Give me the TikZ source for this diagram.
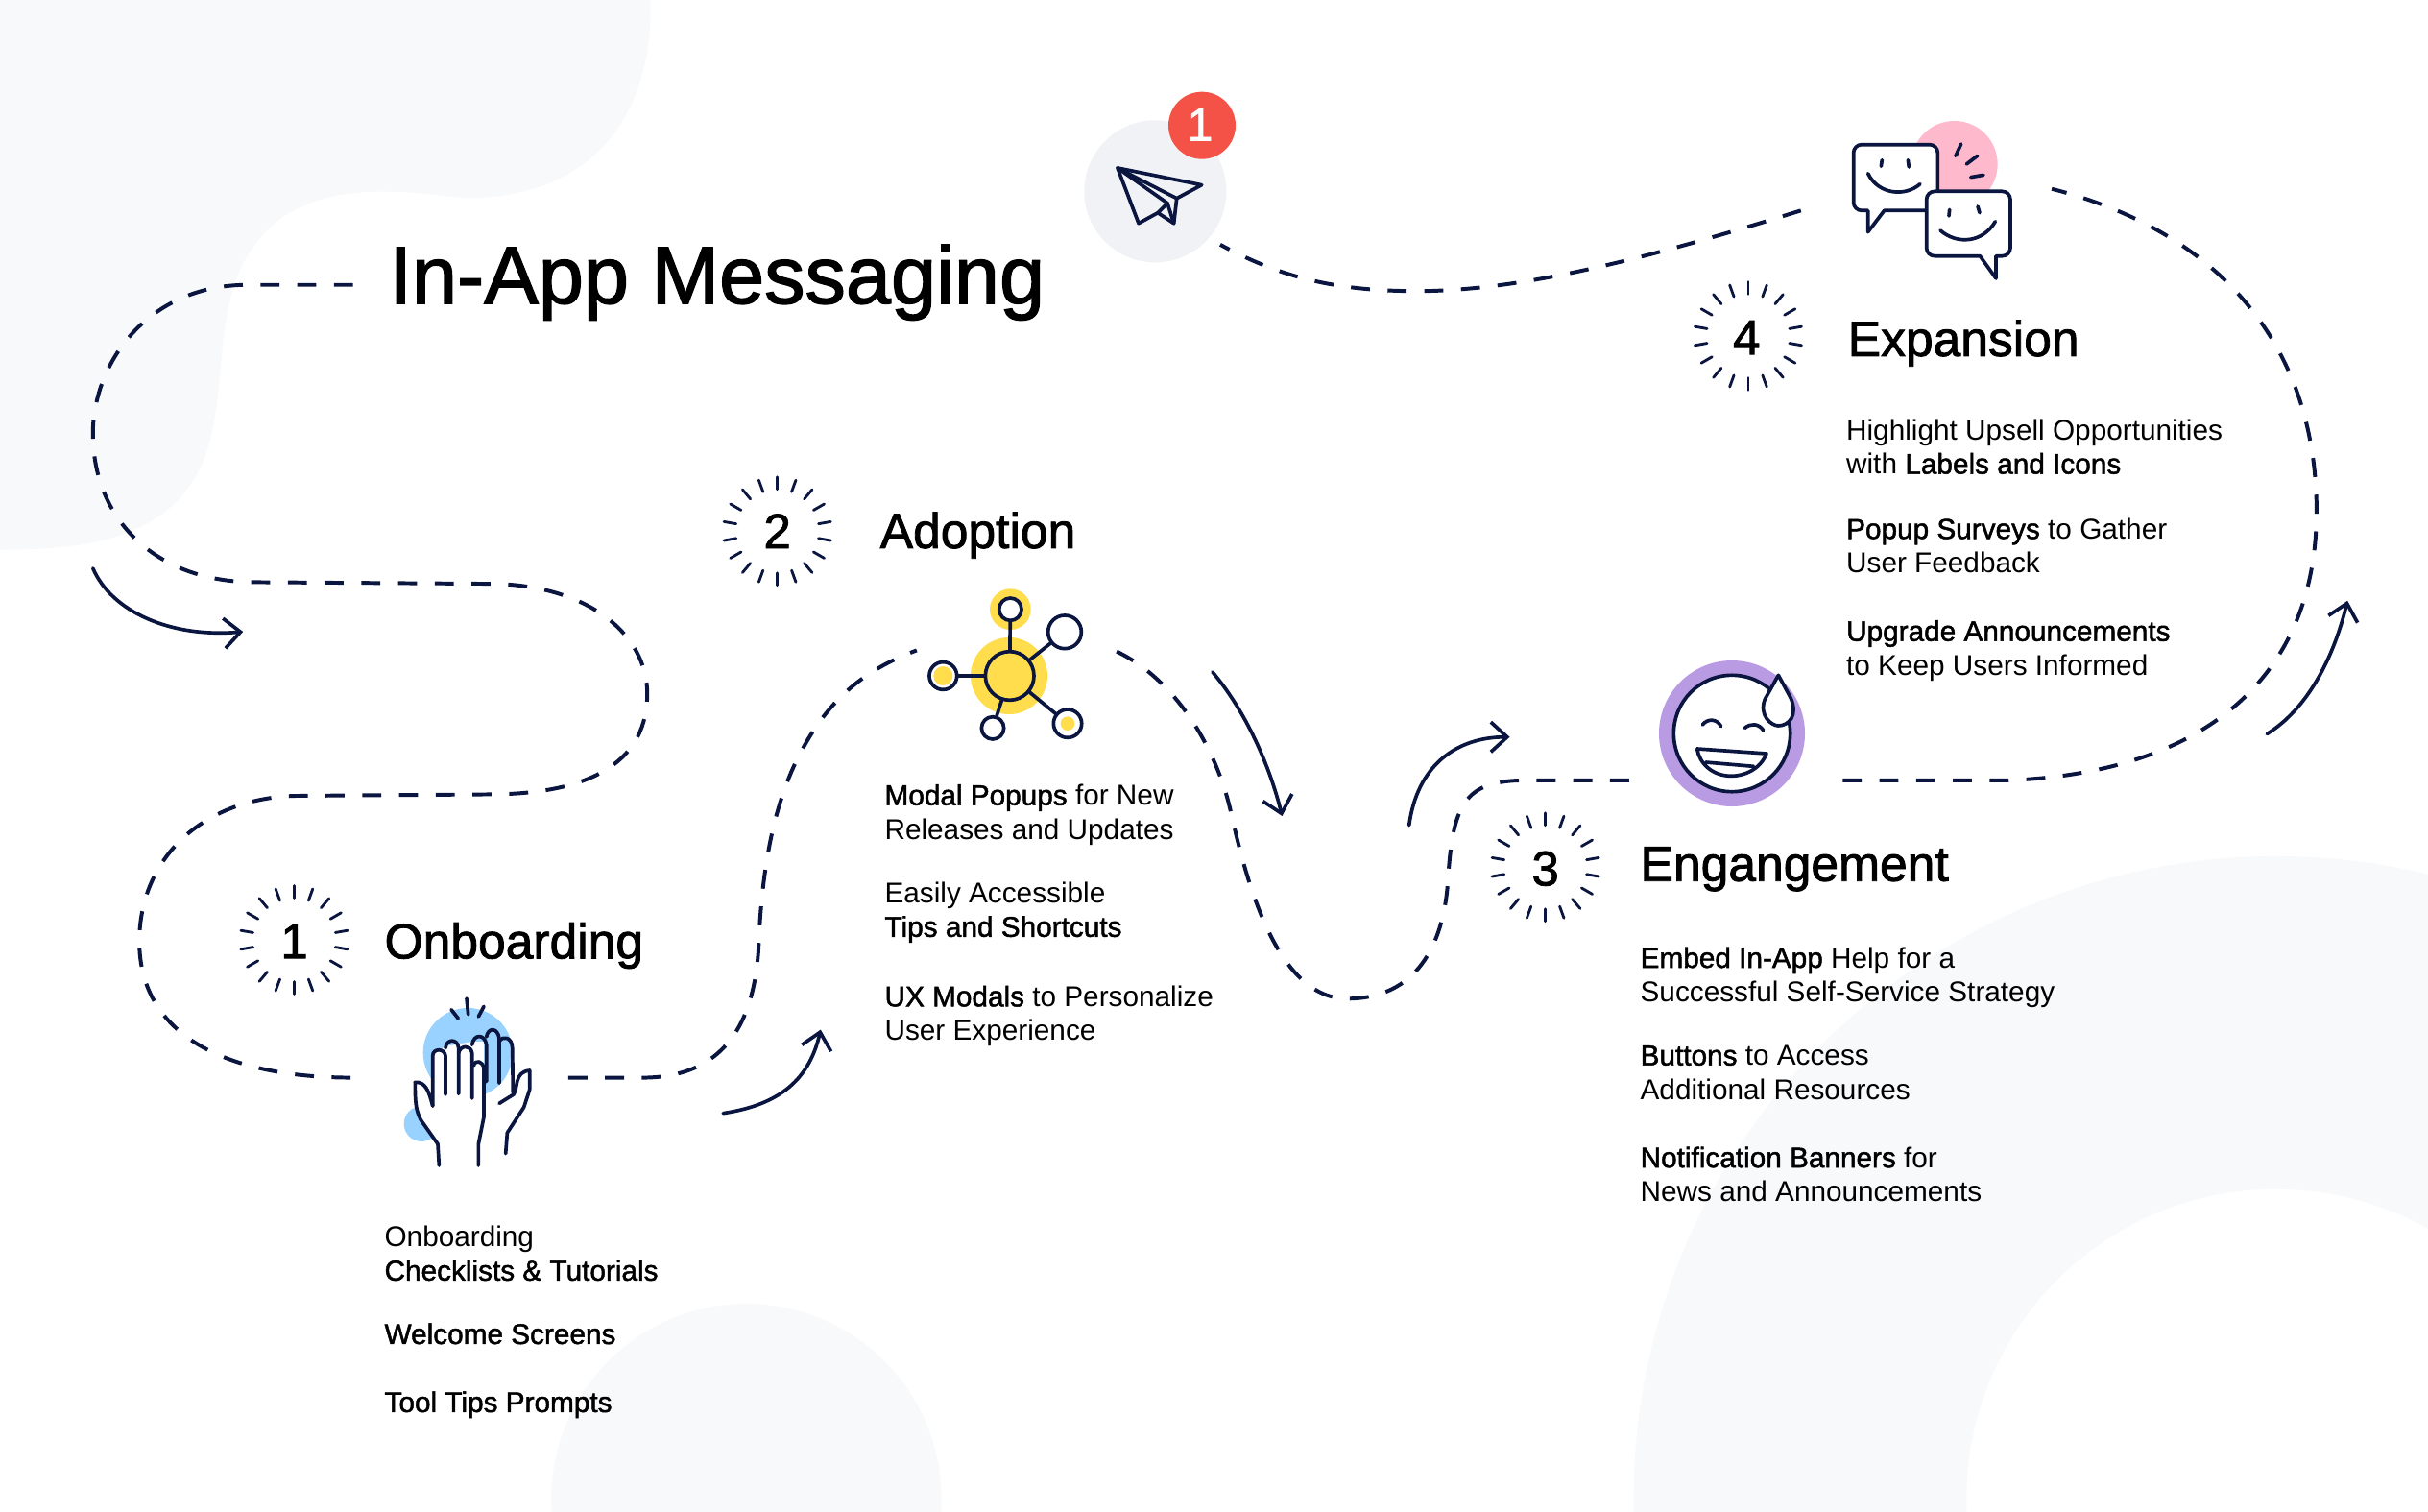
\documentclass[tikz,border=0pt]{standalone}
\usepackage{fontspec}
\setmainfont{Liberation Sans}[BoldFont=Liberation Sans,BoldFeatures={FakeBold=1.6}]
\usetikzlibrary{arrows.meta}

\definecolor{navy}{HTML}{0B1640}
\definecolor{blobgray}{HTML}{F8F9FB}
\definecolor{planegray}{HTML}{F1F2F6}
\definecolor{handblue}{HTML}{99D1FF}
\definecolor{netyellow}{HTML}{FFDD4D}
\definecolor{facepurple}{HTML}{B99BE3}
\definecolor{chatpink}{HTML}{FFB9CC}
\definecolor{badgered}{HTML}{F45246}

\tikzset{
  icon/.style={draw=navy,line width=1.3pt,line cap=round,line join=round},
  route/.style={draw=navy,line width=1.4pt,dash pattern=on 7pt off 6.5pt},
  turn/.style={draw=navy,line width=1.3pt,line cap=round,-{Straight Barb[length=6pt,width=11pt,line width=1.3pt]}},
  body/.style={anchor=base west,inner sep=0pt,text=black,font=\fontsize{10.5pt}{12pt}\selectfont},
  stage/.style={anchor=base west,inner sep=0pt,text=black,font=\fontsize{18.2pt}{20pt}\selectfont\bfseries},
  count/.style={inner sep=0pt,text=black,font=\fontsize{18pt}{20pt}\selectfont\bfseries},
  netnode/.style={circle,draw=navy,line width=1.3pt,fill=white,inner sep=0pt},
}
\newcommand{\burst}[1]{
  \foreach \a in {10,30,...,350}
    \draw[navy,line width=1pt,line cap=round] (#1)++(\a:27) -- ++(\a:8);
}

\begin{document}
\begin{tikzpicture}[x=0.02cm,y=-0.02cm]
\useasboundingbox (0,0) rectangle (1568,976);

% background
\begin{scope}
\clip (0,0) rectangle (1568,976);
\fill[blobgray] (0,0) -- (420,0) .. controls (422,60) and (395,128) .. (300,128)
  .. controls (250,122) and (190,115) .. (160,165)
  .. controls (135,205) and (150,270) .. (125,310)
  .. controls (100,350) and (50,355) .. (0,355) -- cycle;
\fill[blobgray] (482,968) circle (126);
\fill[blobgray,even odd rule] (1470,968) circle (415) (1470,968) circle (200);
\end{scope}

\node[anchor=base west,inner sep=0pt,text=black,font=\fontsize{29.9pt}{31pt}\selectfont\bfseries] (title) at (251,196) {In-App Messaging};

% plane
\begin{scope}[shift={(688.2,49.6)},scale=0.2067]
\fill[planegray] (280,358) circle (222);
\fill[badgered] (426,152) circle (105);
\node[text=white,inner sep=0pt,font=\fontsize{17pt}{19pt}\selectfont\bfseries] (badge) at (420,150) {1};
\draw[icon] (162,285) -- (425,338) -- (347,380) -- (338,458) -- (288,425) -- (228,458) -- cycle;
\draw[icon] (162,285) -- (347,380);
\draw[icon] (162,285) -- (318,395) -- (338,458);
\draw[icon] (288,425) -- (318,395);
\end{scope}

% chat
\begin{scope}[shift={(1184.2,68.2)},scale=0.2067]
\fill[chatpink] (377,183) circle (135);
\draw[icon,fill=white] (107,395) -- (107,328) [rounded corners=3pt] -- (62,328) -- (62,122) -- (325,122) -- (325,328) [sharp corners] -- (158,328) -- cycle;
\draw[icon,fill=white] (507,540) -- (507,470) [rounded corners=3pt] -- (552,470) -- (552,268) -- (290,268) -- (290,470) [sharp corners] -- (457,470) -- cycle;
\draw[icon] (151,170) -- (148,190);
\draw[icon] (232,170) -- (235,192);
\draw[icon] (107,212) .. controls (140,280) and (225,285) .. (270,245);
\draw[icon] (362,325) -- (360,345);
\draw[icon] (450,315) -- (456,335);
\draw[icon] (333,390) .. controls (385,435) and (465,430) .. (505,362);
\draw[icon] (398,120) -- (381,157);
\draw[icon] (449,157) -- (415,183);
\draw[icon] (468,217) -- (428,224);
\end{scope}

% hand
\begin{scope}[shift={(235.6,620)},scale=0.2067]
\fill[handblue] (322,290) circle (140);
\fill[handblue] (177,512) circle (55);
\fill[white] (232,642) -- (228,575) -- (175,500) -- (157,430) -- (157,382) -- (205,400) -- (212,295) -- (252,270) -- (335,255) -- (372,255) -- (372,490) -- (355,575) -- (355,642) -- cycle;
\draw[icon] (232,642) -- (228,575) -- (175,500) .. controls (160,470) and (157,450) .. (157,382) .. controls (190,380) and (200,410) .. (212,456);
\draw[icon] (212,456) -- (212,300) .. controls (212,275) and (250,275) .. (252,300) -- (252,420);
\draw[icon] (252,275) .. controls (255,245) and (290,245) .. (293,275) -- (293,418);
\draw[icon] (293,290) .. controls (300,265) and (330,265) .. (335,290) -- (335,432);
\draw[icon] (335,265) .. controls (340,230) and (375,230) .. (380,265) -- (380,380);
\draw[icon] (340,330) .. controls (345,310) and (370,315) .. (372,340) -- (372,490) -- (355,575) -- (355,642);
\draw[icon] (380,240) .. controls (385,210) and (415,210) .. (420,245) -- (420,385);
\draw[icon] (420,255) .. controls (430,235) and (460,240) .. (461,275) -- (463,415);
\draw[icon] (420,448) -- (465,420) .. controls (480,400) and (465,350) .. (515,345) -- (515,405) -- (497,460) -- (445,540) -- (440,605);
\draw[icon] (318,120) -- (323,170);
\draw[icon] (270,155) -- (292,183);
\draw[icon] (372,145) -- (355,177);
\end{scope}

% network
\begin{scope}[shift={(582.8,365.8)},scale=0.2067]
\fill[netyellow] (333,342) circle (120);
\fill[netyellow] (337,134) circle (64);
\node[netnode,fill=netyellow,minimum size=0.628cm] (hub) at (335,342) {};
\node[netnode,minimum size=0.289cm] (nettop) at (337,134) {};
\node[netnode,minimum size=0.43cm] (netright) at (507,205) {};
\node[netnode,minimum size=0.356cm] (netleft) at (127,342) {};
\node[netnode,minimum size=0.289cm] (netlow) at (282,505) {};
\node[netnode,minimum size=0.364cm] (netcorner) at (516,491) {};
\fill[netyellow] (127,342) circle (30);
\fill[netyellow] (516,491) circle (22);
\draw[icon] (hub) -- (nettop);
\draw[icon] (hub) -- (netright);
\draw[icon] (hub) -- (netleft);
\draw[icon] (hub) -- (netlow);
\draw[icon] (hub) -- (netcorner);
\end{scope}

% face
\begin{scope}[shift={(1054,415.4)},scale=0.2067]
\fill[facepurple] (312,282) circle (228);
\draw[icon,fill=white] (312,282) circle (182);
\draw[icon] (220,255) .. controls (235,235) and (265,235) .. (278,260);
\draw[icon] (352,265) .. controls (370,250) and (395,250) .. (410,272);
\draw[icon] (203,330) -- (420,345) .. controls (400,395) and (350,415) .. (310,415) .. controls (250,415) and (210,375) .. (203,330);
\draw[icon] (230,372) -- (380,385);
\draw[icon,fill=white] (457,100) -- (415,175) .. controls (395,225) and (435,258) .. (457,258) .. controls (490,258) and (520,225) .. (495,170) -- cycle;
\end{scope}

% route
\coordinate (r1a) at (228,184);
\coordinate (r1b) at (228,696);
\coordinate (r2a) at (367,696);
\coordinate (r2b) at (592,420);
\coordinate (r3a) at (712,417);
\coordinate (r3b) at (1052,504);
\coordinate (r4a) at (1190,504);
\coordinate (r4b) at (1325,122);
\coordinate (r5a) at (1163,136);
\coordinate (r5b) at (788,158);
\draw[route] (r1a) -- (160,184) .. controls (95,184) and (60,235) .. (60,280)
  .. controls (60,335) and (100,376) .. (165,376) -- (315,377)
  .. controls (380,377) and (418,410) .. (418,448)
  .. controls (418,490) and (385,512) .. (320,513) -- (190,514)
  .. controls (130,516) and (90,555) .. (90,608)
  .. controls (90,665) and (140,696) .. (r1b);
\draw[route] (r2a) -- (415,696) .. controls (475,696) and (488,650) .. (490,610)
  .. controls (492,560) and (500,520) .. (515,490)
  .. controls (535,450) and (560,432) .. (r2b);
\draw[route] (r3b) -- (985,504) .. controls (945,504) and (938,520) .. (935,570)
  .. controls (932,610) and (915,645) .. (870,645)
  .. controls (825,645) and (805,570) .. (795,525)
  .. controls (785,480) and (755,432) .. (r3a);
\draw[route] (r4a) -- (1295,504) .. controls (1420,500) and (1496,440) .. (1496,330)
  .. controls (1496,225) and (1435,150) .. (r4b);
\draw[route] (r5a) .. controls (1070,165) and (985,188) .. (915,188)
  .. controls (860,188) and (825,178) .. (r5b);

% arrows
\coordinate (t1a) at (60,367);
\coordinate (t1b) at (157,408);
\coordinate (t2a) at (467,719);
\coordinate (t2b) at (530,665);
\coordinate (t3a) at (783,434);
\coordinate (t3b) at (828,527);
\coordinate (t4a) at (910,533);
\coordinate (t4b) at (975,476);
\coordinate (t5a) at (1464,474);
\coordinate (t5b) at (1516,388);
\draw[turn] (t1a) .. controls (72,395) and (110,412) .. (t1b);
\draw[turn] (t2a) .. controls (500,714) and (522,700) .. (t2b);
\draw[turn] (t3a) .. controls (805,460) and (820,495) .. (t3b);
\draw[turn] (t4a) .. controls (915,495) and (940,476) .. (t4b);
\draw[turn] (t5a) .. controls (1490,458) and (1507,425) .. (t5b);

% numbers
\burst{190,607}
\burst{502,343}
\burst{998,560}
\burst{1129,217}
\node[count] (n1) at (190,608) {1};
\node[count] (n2) at (502,343) {2};
\node[count] (n3) at (998,561) {3};
\node[count] (n4) at (1128,218) {4};

\node[stage] (onboarding) at (248,619) {Onboarding};
\node[stage] (adoption) at (568,354) {Adoption};
\node[stage] (engagement) at (1059,569) {Engangement};
\node[stage] (expansion) at (1193,230) {Expansion};

\node[body] (o1) at (248,805) {Onboarding};
\node[body] (o2) at (248,827) {\textbf{Checklists \& Tutorials}};
\node[body] (o3) at (248,868) {\textbf{Welcome Screens}};
\node[body] (o4) at (248,912) {\textbf{Tool Tips Prompts}};

\node[body] (a1) at (571,520) {\textbf{Modal Popups} for New};
\node[body] (a2) at (571,542) {Releases and Updates};
\node[body] (a3) at (571,583) {Easily Accessible};
\node[body] (a4) at (571,605) {\textbf{Tips and Shortcuts}};
\node[body] (a5) at (571,650) {\textbf{UX Modals} to Personalize};
\node[body] (a6) at (571,672) {User Experience};

\node[body] (g1) at (1059,625) {\textbf{Embed In-App} Help for a};
\node[body] (g2) at (1059,647) {Successful Self-Service Strategy};
\node[body] (g3) at (1059,688) {\textbf{Buttons} to Access};
\node[body] (g4) at (1059,710) {Additional Resources};
\node[body] (g5) at (1059,754) {\textbf{Notification Banners} for};
\node[body] (g6) at (1059,776) {News and Announcements};

\node[body] (e1) at (1192,284) {Highlight Upsell Opportunities};
\node[body] (e2) at (1192,306) {with \textbf{Labels and Icons}};
\node[body] (e3) at (1192,348) {\textbf{Popup Surveys} to Gather};
\node[body] (e4) at (1192,370) {User Feedback};
\node[body] (e5) at (1192,414) {\textbf{Upgrade Announcements}};
\node[body] (e6) at (1192,436) {to Keep Users Informed};
\end{tikzpicture}
\end{document}
